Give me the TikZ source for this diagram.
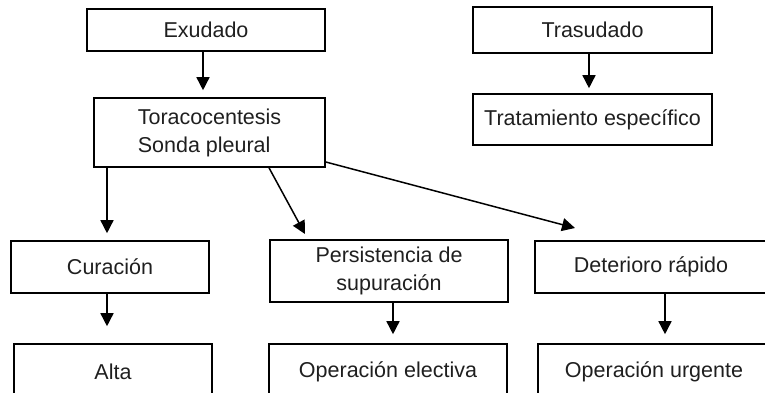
\documentclass[tikz,border=0pt]{standalone}
\usepackage{fontspec}
\setmainfont{Liberation Sans}
\usetikzlibrary{arrows.meta,positioning}

\tikzset{
  box/.style={draw, line width=1.6pt, inner sep=0pt, align=center},
  arr/.style={line width=1.5pt, -{Triangle[width=13pt,length=13pt]}}
}

\begin{document}
\begin{tikzpicture}[x=1pt, y=-1pt,
                    every node/.style={font=\fontsize{21.5}{28}\selectfont, text=black!88}]
  \useasboundingbox (0,0) rectangle (765,392);
  \clip (0,0) rectangle (765,392);
  % top row
  \node[box, minimum width=238pt, minimum height=42pt] (exu) at (206,30) {Exudado};
  \node[box, minimum width=239pt, minimum height=46pt] (tra) at (592.5,30) {Trasudado};
  \node[box, minimum width=231pt, minimum height=69pt, align=left] (tor) at (209.5,132.5)
       {Toracocentesis\\Sonda pleural};
  \node[box, minimum width=239pt, minimum height=51pt] (tto) at (592.5,119.5)
       {Tratamiento específico};
  % middle row
  \node[box, minimum width=238pt, minimum height=62pt] (per) at (389,271)
       {Persistencia de\\supuración};
  \node[box, minimum width=198pt, minimum height=52pt] (cur) at (110,267) {Curación};
  \node[box, minimum width=232pt, minimum height=52pt] (det) at (651,267) {Deterioro rápido};
  % bottom row (cut by the page edge)
  \node[box, minimum width=198pt, minimum height=56pt] (alt) at (113,372) {Alta};
  \node[box, minimum width=238pt, minimum height=56pt] (ele) at (388,372) {Operación electiva};
  \node[box, minimum width=232pt, minimum height=56pt] (urg) at (654,372) {Operación urgente};
  % arrows
  \coordinate (perin) at (305,234);
  \coordinate (detin) at (575,228);
  \draw[arr, shorten >=7pt] (exu.south -| 203,0) -- (tor.north -| 203,0);
  \draw[arr, shorten >=5pt] (tra.south -| 589,0) -- (tto.north -| 589,0);
  \draw[arr, shorten >=7pt] (tor.south -| 107,0) -- (cur.north -| 107,0);
  \draw[arr] (tor.south -| 269,0) -- (perin);
  \draw[arr] (tor.east |- 0,162) -- (detin);
  \draw[arr, shorten >=17pt] (cur.south -| 107,0) -- (alt.north -| 107,0);
  \draw[arr, shorten >=9pt] (per.south -| 393,0) -- (ele.north -| 393,0);
  \draw[arr, shorten >=9pt] (det.south -| 665,0) -- (urg.north -| 665,0);
\end{tikzpicture}
\end{document}
